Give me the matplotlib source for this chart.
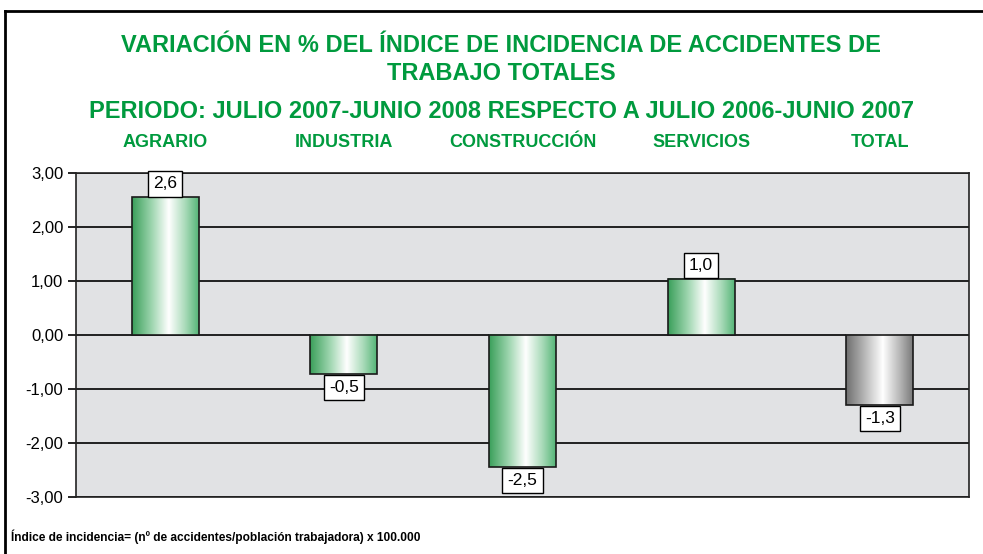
import numpy as np
import matplotlib
matplotlib.use("Agg")
import matplotlib.pyplot as plt
from matplotlib.colors import LinearSegmentedColormap
from matplotlib.lines import Line2D

# Data
categories = ["AGRARIO", "INDUSTRIA", "CONSTRUCCIÓN", "SERVICIOS", "TOTAL"]
values = [2.55, -0.73, -2.45, 1.04, -1.30]
value_labels = ["2,6", "-0,5", "-2,5", "1,0", "-1,3"]
bar_kinds = ["green", "green", "green", "green", "gray"]
yticks = [3, 2, 1, 0, -1, -2, -3]
ytick_labels = ["3,00", "2,00", "1,00", "0,00", "-1,00", "-2,00", "-3,00"]

title_lines = ["VARIACIÓN EN % DEL ÍNDICE DE INCIDENCIA DE ACCIDENTES DE", "TRABAJO TOTALES"]
title2 = "PERIODO: JULIO 2007-JUNIO 2008 RESPECTO A JULIO 2006-JUNIO 2007"
footnote = "Índice de incidencia= (nº de accidentes/población trabajadora) x 100.000"

plt.rcParams['font.family'] = ['Liberation Sans Narrow', 'Liberation Sans', 'DejaVu Sans']
GREEN = "#009a3e"

cmaps = {
    "green": LinearSegmentedColormap.from_list(
        "g", [(0, "#3a9f5a"), (0.3, "#9fd6b0"), (0.55, "#ffffff"), (0.8, "#a8dab8"), (1, "#55b577")]),
    "gray": LinearSegmentedColormap.from_list(
        "k", [(0, "#6e6e6e"), (0.3, "#bdbdbd"), (0.55, "#ffffff"), (0.8, "#b8b8b8"), (1, "#7a7a7a")]),
}

fig = plt.figure(figsize=(9.83, 5.54), dpi=100)
ax = fig.add_axes([0.0773, 0.1029, 0.9085, 0.5848])
ax.set_facecolor("#e1e2e4")

x = np.arange(len(categories))
width = 0.375
grad = np.linspace(0, 1, 256).reshape(1, -1)

for xi, v, kind in zip(x, values, bar_kinds):
    ax.imshow(grad, cmap=cmaps[kind], aspect="auto", interpolation="bilinear",
              extent=[xi - width / 2, xi + width / 2, min(0, v), max(0, v)], zorder=3)
ax.bar(x, values, width=width, facecolor="none", edgecolor="#1a1a1a", linewidth=1.2, zorder=4)

for xi, v, lab in zip(x, values, value_labels):
    off = 4.2 if v > 0 else -4.2
    ax.annotate(lab, (xi, v), xytext=(0, off), textcoords="offset points",
                ha="center", va="bottom" if v > 0 else "top", fontsize=12.5, zorder=6,
                bbox=dict(boxstyle="square,pad=0.3", facecolor="white", edgecolor="black", linewidth=1))

ax.set_xlim(-0.5, len(categories) - 0.5)
ax.set_ylim(-3, 3)
ax.set_yticks(yticks)
ax.set_yticklabels(ytick_labels, fontsize=12)
ax.set_xticks([])
ax.yaxis.grid(True, color="black", linewidth=1.2, zorder=1)
ax.set_axisbelow(True)
ax.tick_params(axis="y", length=6, width=1.2, color="black", pad=3)
for s in ax.spines.values():
    s.set_color("#222222")
    s.set_linewidth(1.2)

# category headers above the plot
for xi, c in zip(x, categories):
    ax.text(xi, 1.095, c, transform=ax.get_xaxis_transform(), ha="center", va="center",
            fontsize=13, fontweight="bold", color=GREEN)

fig.text(0.51, 1 - 46 / 554, title_lines[0], ha="center", va="center", fontsize=17,
         fontweight="bold", color=GREEN)
fig.text(0.51, 1 - 74 / 554, title_lines[1], ha="center", va="center", fontsize=17,
         fontweight="bold", color=GREEN)
fig.text(0.51, 1 - 112 / 554, title2, ha="center", va="center", fontsize=17,
         fontweight="bold", color=GREEN)
fig.text(0.011, 0.032, footnote, ha="left", va="center", fontsize=8.6, fontweight="bold")

# outer frame (top and left edges visible)
fig.add_artist(Line2D([5 / 983, 1], [1 - 11 / 554, 1 - 11 / 554], color="black", linewidth=2))
fig.add_artist(Line2D([5 / 983, 5 / 983], [0, 1 - 11 / 554], color="black", linewidth=2))

fig.savefig("out.png", dpi=100)
